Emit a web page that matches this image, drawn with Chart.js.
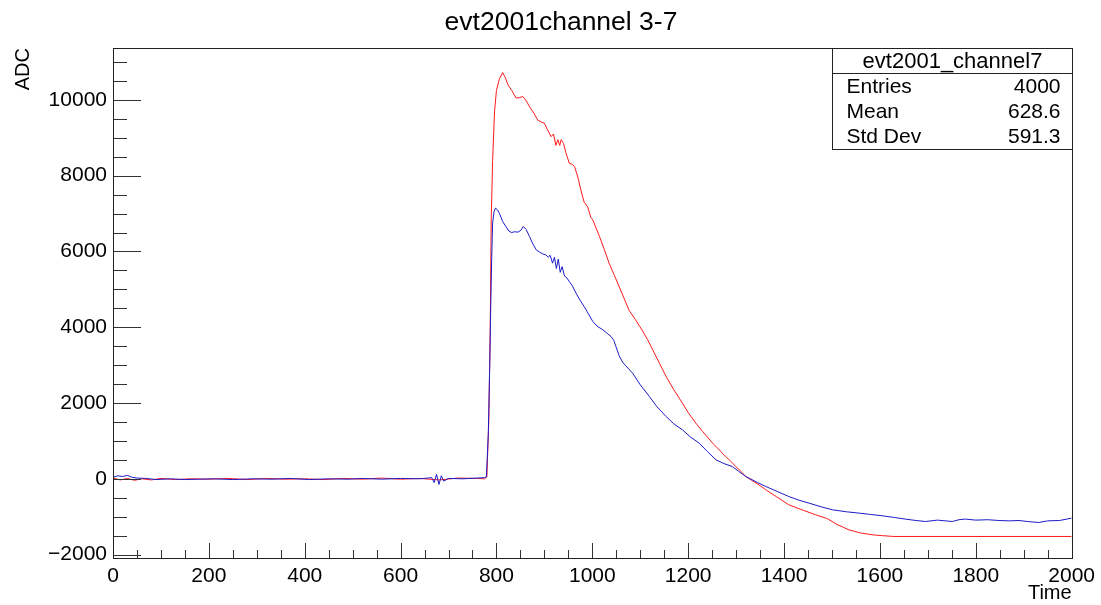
<!DOCTYPE html>
<html>
<head>
<meta charset="utf-8">
<script src="https://cdn.jsdelivr.net/npm/chart.js@4.4.1/dist/chart.umd.min.js"></script>
<style>
    html, body { margin: 0; padding: 0; background: #fff; }
</style>
</head>
<body>
<canvas id="adcchart" width="1101" height="605"></canvas>
<script>
// channel 7 (red) and channel 3 (blue)
const redTime = [0, 15, 30, 45, 60, 80, 100, 130, 160, 200, 240, 280, 320, 360, 400, 440, 480, 520, 560, 600, 640, 680, 720, 760, 775,
    780, 784, 787, 789, 792, 796, 800, 806, 813, 818, 824, 832, 841, 848, 855, 862, 869, 878, 886, 893, 900, 907, 914, 919, 924,
    928, 932, 935, 940, 945, 952, 958, 963, 970, 976, 983, 990, 997, 1001, 1015, 1025, 1035, 1045, 1053, 1065, 1077, 1090, 1105,
    1115, 1126, 1140, 1154, 1170, 1188, 1200, 1216, 1230, 1251, 1265, 1278, 1290, 1299, 1310, 1320, 1335, 1350, 1362, 1385, 1410,
    1440, 1466, 1490, 1510, 1535, 1560, 1584, 1605, 1629, 2000];
const redAdc = [20, -30, 10, -40, 0, -30, 10, -20, 0, -10, 10, -20, 10, -10, 0, -20, 10, -10, 20, -10, 10, -30, 20, 10, 0,
    50, 1500, 4000, 6800, 8400, 9700, 10250, 10550, 10720, 10600, 10400, 10250, 10050, 10060, 10090, 9980, 9820, 9650, 9470, 9420, 9385, 9200, 9030, 9100, 8800,
    8950, 8800, 8950, 8850, 8600, 8330, 8300, 8240, 7950, 7625, 7300, 7185, 6900, 6834, 6393, 6050, 5691, 5400, 5163, 4800, 4440, 4200, 3900,
    3680, 3404, 3050, 2700, 2350, 1997, 1750, 1470, 1250, 942, 760, 590, 450, 325, 200, 61, -60, -180, -290, -480, -686,
    -830, -950, -1050, -1200, -1346, -1430, -1478, -1500, -1522, -1522];

const blueTime = [0, 10, 20, 30, 40, 50, 70, 90, 120, 150, 180, 210, 250, 290, 330, 370, 410, 450, 490, 520, 560, 600, 640, 665, 670,
    675, 680, 685, 690, 700, 730, 760, 775, 779, 783, 786, 788, 790, 792, 795, 798, 802, 806, 813, 820, 826, 831, 838, 845, 851,
    856, 862, 869, 876, 883, 890, 896, 903, 908, 912, 917, 921, 925, 929, 933, 937, 942, 947, 952, 958, 966, 975, 983, 992, 1001,
    1010, 1022, 1030, 1039, 1045, 1049, 1056, 1063, 1070, 1084, 1100, 1119, 1135, 1154, 1170, 1188, 1205, 1223, 1240, 1258, 1275, 1292,
    1305, 1320, 1327, 1345, 1362, 1385, 1410, 1430, 1452, 1475, 1501, 1530, 1556, 1580, 1605, 1630, 1653, 1675, 1695, 1720, 1751,
    1765, 1778, 1800, 1825, 1848, 1870, 1890, 1910, 1931, 1950, 1975, 2000];
const blueAdc = [40, 80, 60, 90, 40, 20, 10, -20, 0, -20, -10, 0, -20, 0, -10, 10, -20, 0, -10, 10, -10, 10, 0, 30, -100,
    120, -150, 80, -60, 10, 0, 20, 30, 50, 1200, 3000, 4500, 5800, 6750, 7050, 7142, 7100, 7010, 6790, 6650, 6540, 6500, 6520, 6510, 6560,
    6658, 6580, 6393, 6200, 6042, 5980, 5940, 5910, 5850, 5900, 5691, 5850, 5550, 5800, 5450, 5600, 5350, 5300, 5207, 5100, 4900, 4700, 4546, 4350, 4151,
    4030, 3931, 3850, 3755, 3650, 3500, 3250, 3080, 2980, 2789, 2480, 2172, 1900, 1644, 1450, 1293, 1100, 942, 720, 501, 400, 325,
    200, 61, 18, -100, -203, -330, -467, -560, -641, -730, -818, -870, -905, -940, -976, -1020, -1063, -1100, -1127, -1090, -1127,
    -1080, -1063, -1090, -1080, -1100, -1110, -1100, -1130, -1153, -1110, -1100, -1037];

const xTickLabels = [0, 200, 400, 600, 800, 1000, 1200, 1400, 1600, 1800, 2000];
const yTickLabels = [-2000, 0, 2000, 4000, 6000, 8000, 10000];

const chartTitle = 'evt2001channel 3-7';
const statsTitle = 'evt2001_channel7';
const statsNames = ['Entries', 'Mean', 'Std Dev'];
const statsValues = ['4000', '628.6', '591.3'];

const fontFamily = "'Liberation Sans', Arial, Helvetica, sans-serif";

function toPoints(xs, ys) {
    const pts = [];
    for (let i = 0; i < xs.length; i++) {
        pts.push({ x: xs[i], y: ys[i] });
    }
    return pts;
}

// ROOT style: centred pad title, ticks pointing inside the frame, frame box and stats box
const rootFrame = {
    id: 'rootFrame',
    afterDraw(chart) {
        const ctx = chart.ctx;
        const a = chart.chartArea;
        const x = chart.scales.x;
        const y = chart.scales.y;
        ctx.save();

        ctx.fillStyle = '#000';
        ctx.font = '26.5px ' + fontFamily;
        ctx.textAlign = 'center';
        ctx.textBaseline = 'middle';
        ctx.fillText(chartTitle, 561, 23);

        ctx.strokeStyle = '#333';
        ctx.lineWidth = 1;
        ctx.beginPath();
        for (let v = 0; v <= 2000; v += 50) {
            const px = Math.round(x.getPixelForValue(v)) + 0.5;
            const len = v % 200 === 0 ? 15 : 8;
            ctx.moveTo(px, a.bottom);
            ctx.lineTo(px, a.bottom - len);
        }
        for (let v = -2000; v <= 11000; v += 500) {
            const py = Math.round(y.getPixelForValue(v)) + 0.5;
            const len = v % 2000 === 0 ? 28 : 14;
            ctx.moveTo(a.left, py);
            ctx.lineTo(a.left + len, py);
        }
        ctx.stroke();

        ctx.strokeStyle = '#222';
        ctx.strokeRect(Math.round(a.left) + 0.5, Math.round(a.top) + 0.5,
            Math.round(a.right - a.left), Math.round(a.bottom - a.top));

        // stats box
        const bx = 832.5, by = Math.round(a.top) + 0.5, bw = Math.round(a.right) - 832, bh = 101;
        ctx.fillStyle = '#fff';
        ctx.fillRect(bx, by, bw, bh);
        ctx.strokeRect(bx, by, bw, bh);
        ctx.beginPath();
        ctx.moveTo(bx, by + 25);
        ctx.lineTo(bx + bw, by + 25);
        ctx.stroke();

        ctx.fillStyle = '#000';
        ctx.textBaseline = 'middle';
        ctx.textAlign = 'center';
        ctx.font = '22px ' + fontFamily;
        ctx.fillText(statsTitle, bx + bw / 2, by + 13);
        ctx.font = '21px ' + fontFamily;
        for (let i = 0; i < statsNames.length; i++) {
            const ty = by + 39 + i * 25;
            ctx.textAlign = 'left';
            ctx.fillText(statsNames[i], bx + 14, ty);
            ctx.textAlign = 'right';
            ctx.fillText(statsValues[i], bx + bw - 12, ty);
        }
        ctx.restore();
    }
};

new Chart('adcchart', {
    type: 'line',
    data: {
        datasets: [{
            label: 'channel 3',
            data: toPoints(blueTime, blueAdc),
            borderColor: '#1c1cc8',
            borderWidth: 1,
            pointRadius: 0,
            tension: 0,
            fill: false
        }, {
            label: 'channel 7',
            data: toPoints(redTime, redAdc),
            borderColor: '#ff1a1a',
            borderWidth: 1,
            pointRadius: 0,
            tension: 0,
            fill: false
        }]
    },
    options: {
        responsive: false,
        animation: false,
        layout: { padding: { left: 0, right: 28, top: 48, bottom: 0 } },
        plugins: {
            legend: { display: false },
            tooltip: { enabled: false },
            title: { display: false }
        },
        scales: {
            x: {
                type: 'linear',
                min: 0,
                max: 2000,
                afterBuildTicks: s => { s.ticks = xTickLabels.map(v => ({ value: v })); },
                afterFit: s => { s.height = 47; },
                grid: { display: false, drawTicks: false },
                border: { display: false },
                ticks: {
                    color: '#000',
                    padding: 6,
                    maxRotation: 0,
                    autoSkip: false,
                    font: { family: fontFamily, size: 21 },
                    callback: v => String(v)
                },
                title: {
                    display: true,
                    text: 'Time',
                    align: 'end',
                    color: '#000',
                    padding: { top: 0, bottom: 0 },
                    font: { family: fontFamily, size: 20 }
                }
            },
            y: {
                type: 'linear',
                min: -2090,
                max: 11370,
                afterBuildTicks: s => { s.ticks = yTickLabels.map(v => ({ value: v })); },
                afterFit: s => { s.width = 113; },
                grid: { display: false, drawTicks: false },
                border: { display: false },
                ticks: {
                    color: '#000',
                    padding: 6,
                    autoSkip: false,
                    font: { family: fontFamily, size: 21 },
                    callback: v => v < 0 ? '\u2212' + (-v) : String(v)
                },
                title: {
                    display: true,
                    text: 'ADC',
                    align: 'end',
                    color: '#000',
                    padding: { top: 11, bottom: 0 },
                    font: { family: fontFamily, size: 20 }
                }
            }
        }
    },
    plugins: [rootFrame]
});
</script>
</body>
</html>
